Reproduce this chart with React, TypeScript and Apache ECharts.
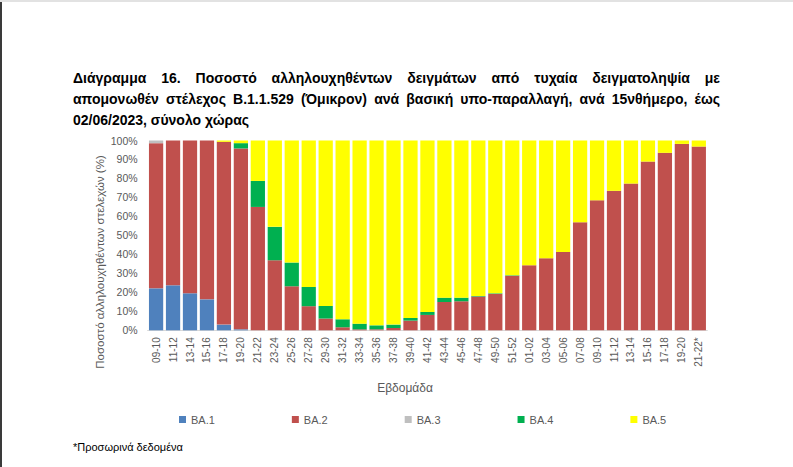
import React, { useEffect, useRef } from "react";
import * as echarts from "echarts";

const categories = [
  "09-10", "11-12", "13-14", "15-16", "17-18", "19-20", "21-22", "23-24", "25-26", "27-28",
  "29-30", "31-32", "33-34", "35-36", "37-38", "39-40", "41-42", "43-44", "45-46", "47-48",
  "49-50", "51-52", "01-02", "03-04", "05-06", "07-08", "09-10", "11-12", "13-14", "15-16",
  "17-18", "19-20", "21-22*",
];
const ba1 = [22.1, 23.7, 19.5, 16.3, 3.0, 0.5, 0, 0, 0, 0, 0, 0, 0, 0, 0, 0, 0, 0, 0, 0, 0, 0, 0, 0, 0, 0, 0, 0, 0, 0, 0, 0, 0];
const ba2 = [76.5, 76.3, 80.5, 83.7, 96.3, 95.3, 65.0, 36.9, 23.2, 12.7, 6.2, 1.6, 0.5, 0.5, 1.2, 5.1, 8.1, 14.9, 15.3, 17.8, 19.2, 28.8, 34.3, 38.0, 41.3, 56.9, 68.5, 73.5, 77.3, 88.9, 93.5, 98.2, 96.8];
const ba3 = [1.4, 0, 0, 0, 0, 0, 0, 0, 0, 0, 0, 0, 0, 0, 0, 0, 0, 0, 0, 0, 0, 0, 0, 0, 0, 0, 0, 0, 0, 0, 0, 0, 0];
const ba4 = [0, 0, 0, 0, 0, 2.8, 13.7, 17.6, 12.5, 10.1, 6.6, 4.2, 3.0, 2.1, 1.8, 1.4, 1.6, 2.3, 1.9, 0.3, 0.3, 0.2, 0, 0, 0, 0, 0, 0, 0, 0, 0, 0, 0];
const ba5 = [0, 0, 0, 0, 0.7, 1.4, 21.3, 45.5, 64.3, 77.2, 87.2, 94.2, 96.5, 97.4, 97.0, 93.5, 90.3, 82.8, 82.8, 81.9, 80.5, 71.0, 65.7, 62.0, 58.7, 43.1, 31.5, 26.5, 22.7, 11.1, 6.5, 1.8, 3.2];
const yTicks = { min: 0, max: 100, interval: 10 };

const seriesNames = ["BA.1", "BA.2", "BA.3", "BA.4", "BA.5"];
const seriesColors = ["#4F81BD", "#C0504D", "#BFBFBF", "#00B050", "#FFFF00"];
const seriesData = [ba1, ba2, ba3, ba4, ba5];

const titleLines = [
  "Διάγραμμα 16. Ποσοστό αλληλουχηθέντων δειγμάτων από τυχαία δειγματοληψία με",
  "απομονωθέν στέλεχος Β.1.1.529 (Όμικρον) ανά βασική υπο-παραλλαγή, ανά 15νθήμερο, έως",
  "02/06/2023, σύνολο χώρας",
];
const yName = "Ποσοστό αλληλουχηθέντων στελεχών (%)";
const xName = "Εβδομάδα";
const footnote = "*Προσωρινά δεδομένα";

const FONT = "'Liberation Sans', Arial, sans-serif";

function buildTitle(): any[] {
  const els: any[] = [];
  const fontSize = 14;
  const left = 73;
  const right = 720;
  const ys = [78, 99, 120];
  let ctx: CanvasRenderingContext2D | null = null;
  try {
    ctx = document.createElement("canvas").getContext("2d");
    if (ctx) ctx.font = `bold ${fontSize}px 'Liberation Sans'`;
  } catch (e) {
    ctx = null;
  }
  titleLines.forEach((line, li) => {
    const justify = li < titleLines.length - 1 && ctx;
    if (!justify) {
      els.push({
        type: "text",
        x: left,
        y: ys[li],
        style: { text: line, font: `bold ${fontSize}px ${FONT}`, fill: "#000", verticalAlign: "middle" },
      });
      return;
    }
    const words = line.split(" ");
    const widths = words.map((w) => ctx!.measureText(w).width);
    const total = widths.reduce((a, b) => a + b, 0);
    const gap = (right - left - total) / (words.length - 1);
    let x = left;
    words.forEach((w, i) => {
      els.push({
        type: "text",
        x,
        y: ys[li],
        style: { text: w, font: `bold ${fontSize}px ${FONT}`, fill: "#000", verticalAlign: "middle" },
      });
      x += widths[i] + gap;
    });
  });
  return els;
}

export default function App() {
  const ref = useRef<HTMLDivElement>(null);
  useEffect(() => {
    if (!ref.current) return;
    const chart = echarts.init(ref.current, undefined, { renderer: "svg" });
    const option: any = {
      animation: false,
      backgroundColor: "#ffffff",
      textStyle: { fontFamily: FONT },
      grid: { left: 147.6, right: 85.7, top: 140.5, bottom: 136.7, containLabel: false },
      legend: {
        data: seriesNames,
        left: 174,
        top: 409,
        itemWidth: 7,
        itemHeight: 7,
        itemGap: 77,
        icon: "rect",
        textStyle: { color: "#595959", fontSize: 11, fontFamily: FONT },
      },
      xAxis: {
        type: "category",
        data: categories,
        axisLine: { show: true, lineStyle: { color: "#D9D9D9", width: 1 } },
        axisTick: { show: false },
        axisLabel: { interval: 0, rotate: 90, color: "#595959", fontSize: 10, margin: 7, fontFamily: FONT },
        splitLine: { show: false },
      },
      yAxis: {
        type: "value",
        min: yTicks.min,
        max: yTicks.max,
        interval: yTicks.interval,
        axisLine: { show: false },
        axisTick: { show: false },
        splitLine: { show: false },
        axisLabel: { formatter: "{value}%", color: "#595959", fontSize: 10.5, margin: 10, fontFamily: FONT },
      },
      series: seriesNames.map((name, i) => ({
        name,
        type: "bar",
        stack: "total",
        barCategoryGap: "16%",
        data: seriesData[i],
        itemStyle: { color: seriesColors[i] },
      })),
      graphic: [
        { type: "line", shape: { x1: 1, y1: 0, x2: 1, y2: 467 }, style: { stroke: "#3a3a3a", lineWidth: 2 } },
        { type: "line", shape: { x1: 0, y1: 1, x2: 793, y2: 1 }, style: { stroke: "#e2e2e2", lineWidth: 2 } },
        ...buildTitle(),
        {
          type: "text",
          x: 100,
          y: 262,
          rotation: Math.PI / 2,
          style: { text: yName, font: `11.5px ${FONT}`, fill: "#595959", align: "center", verticalAlign: "middle" },
        },
        {
          type: "text",
          x: 405,
          y: 388,
          style: { text: xName, font: `12px ${FONT}`, fill: "#595959", align: "center", verticalAlign: "middle" },
        },
        {
          type: "text",
          x: 73,
          y: 447,
          style: { text: footnote, font: `11px ${FONT}`, fill: "#000", verticalAlign: "middle" },
        },
      ],
    };
    chart.setOption(option);
    return () => chart.dispose();
  }, []);
  return (
    <div
      ref={ref}
      style={{ position: "fixed", left: 0, top: 0, width: 793, height: 467, background: "#fff" }}
    />
  );
}
